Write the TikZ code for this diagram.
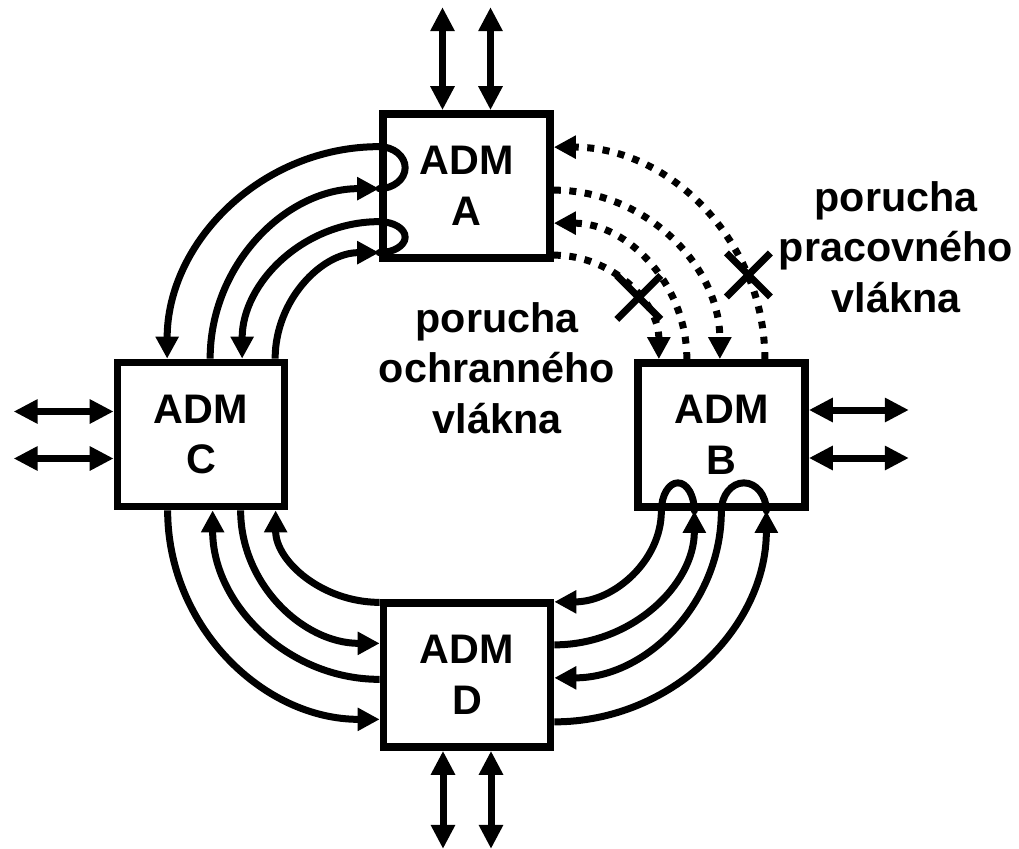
\documentclass[tikz,border=0pt]{standalone}
\usepackage{fontspec}
\setmainfont{Liberation Sans}
\usepackage{tikz}
\usetikzlibrary{calc,arrows.meta,shapes.misc}
\def\cornerarc[#1](#2)(#3:#4:#5:#6){\draw[#1] ($(#2)+({#5*cos(#3)},{#6*sin(#3)})$) arc[start angle=#3, end angle=#4, x radius=#5, y radius=#6];}

\tikzset{
	adm/.style={draw, line width=0.155cm, minimum width=3.34cm, minimum height=2.88cm, inner sep=0pt, align=center, font=\fontsize{23.5}{28.8}\selectfont\bfseries},
	note/.style={align=center, inner sep=0pt, font=\fontsize{23.5}{28.6}\selectfont\bfseries},
	fiber/.style={line width=0.14cm},
	loopfiber/.style={line width=0.14cm, line cap=round},
	dotfiber/.style={line width=0.14cm, dash pattern=on 0.14cm off 0.17cm},
	fwd/.style={-{Triangle[length=0.44cm,width=0.44cm]}},
	io/.style={line width=0.14cm, {Triangle[length=0.48cm,width=0.46cm]}-{Triangle[length=0.48cm,width=0.46cm]}},
	brk/.style={cross out, draw, line width=0.14cm, minimum size=0.74cm, inner sep=0pt}
}

\begin{document}
\begin{tikzpicture}[x=0.02cm,y=0.02cm]
		%%%%% START %%%%%
		\useasboundingbox (0,0) rectangle (1019,-849);
		
		\node[adm] (A) at (466.5,-186) {ADM\\A};
		\node[adm] (B) at (721.5,-435) {ADM\\B};
		\node[adm] (C) at (201,-434.5) {ADM\\C};
		\node[adm] (D) at (467,-675) {ADM\\D};
		
		\node[note] (ochr) at (497,-368) {porucha\\ochranného\\vlákna};
		\node[note] (prac) at (896,-247) {porucha\\pracovného\\vlákna};
		
		% tributaries
		\draw[io] ($(A.north)+(-24,0)$) -- ++(0,103);
		\draw[io] ($(A.north)+(24,0)$) -- ++(0,103);
		\draw[io] ($(D.south)+(-24,0)$) -- ++(0,-98);
		\draw[io] ($(D.south)+(24,0)$) -- ++(0,-98);
		\draw[io] ($(C.west)+(0,23)$) -- ++(-100,0);
		\draw[io] ($(C.west)+(0,-24)$) -- ++(-100,0);
		\draw[io] ($(B.east)+(0,25)$) -- ++(100,0);
		\draw[io] ($(B.east)+(0,-23)$) -- ++(100,0);
		
		% A -- C
		\coordinate (ca) at (A.west |- C.north);
		\cornerarc[fiber,fwd](ca)(90:180:212:212)
		\cornerarc[fiber,fwd](ca)(180:90:169:170)
		\cornerarc[fiber,fwd](ca)(90:180:137:137)
		\cornerarc[fiber,fwd](ca)(180:90:104:106)
		\coordinate (la1) at ($(ca)+(0,191)$);
		\coordinate (la2) at ($(ca)+(0,121.5)$);
		\cornerarc[loopfiber](la1)(90:-90:26:21)
		\cornerarc[loopfiber](la2)(90:-90:26:15.5)
		
		% C -- D
		\coordinate (cd) at (D.west |- C.south);
		\cornerarc[fiber,fwd](cd)(180:270:212:209)
		\cornerarc[fiber,fwd](cd)(270:180:167:169)
		\cornerarc[fiber,fwd](cd)(180:270:139:133)
		\cornerarc[fiber,fwd](cd)(270:180:104:92)
		
		% B -- D
		\coordinate (bd) at (D.east |- B.south);
		\cornerarc[fiber,fwd](bd)(0:-90:107:91)
		\cornerarc[fiber,fwd](bd)(-90:0:140:134)
		\cornerarc[fiber,fwd](bd)(0:-90:167:167)
		\cornerarc[fiber,fwd](bd)(-90:0:212:211)
		\coordinate (lb1) at ($(bd)+(123.5,0)$);
		\coordinate (lb2) at ($(bd)+(189.5,0)$);
		\cornerarc[loopfiber](lb1)(180:0:16.5:28)
		\cornerarc[loopfiber](lb2)(180:0:22.5:28)
		
		% A -- B, broken
		\coordinate (ab) at (A.east |- B.north);
		\cornerarc[dotfiber,fwd](ab)(0:90:211:212)
		\cornerarc[dotfiber,fwd](ab)(90:0:166:169)
		\cornerarc[dotfiber,fwd](ab)(0:90:133:136)
		\cornerarc[dotfiber,fwd](ab)(90:0:105:104)
		\node[brk] (brk1) at ($(ab)+(36:105)$) {};
		\node[brk] (brk2) at ($(ab)+(23.4:212)$) {};
		%%%%% END %%%%%
	\end{tikzpicture}
\end{document}
